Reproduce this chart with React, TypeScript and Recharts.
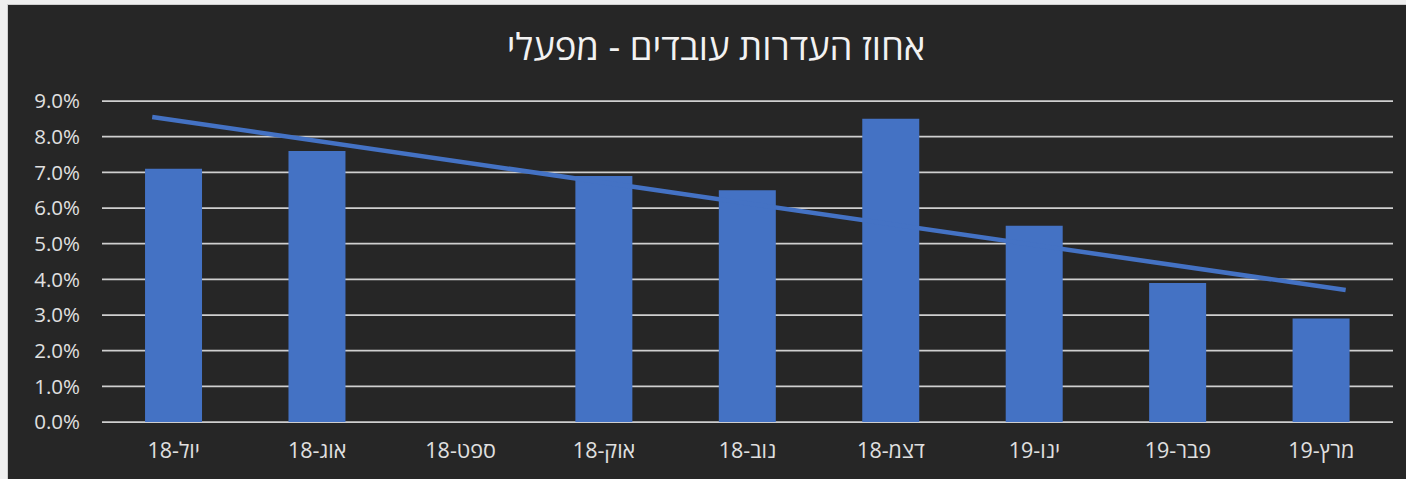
import {
  ComposedChart,
  Bar,
  Line,
  XAxis,
  YAxis,
  CartesianGrid
} from "recharts";

const months = ["יול-18", "אוג-18", "ספט-18", "אוק-18", "נוב-18", "דצמ-18", "ינו-19", "פבר-19", "מרץ-19"];
const absence = [7.1, 7.6, null, 6.9, 6.5, 8.5, 5.5, 3.9, 2.9];
const yTicks = [0, 1, 2, 3, 4, 5, 6, 7, 8, 9];

// linear trend line, start and end (x in category units)
const trendX = [0.85, 9.17];
const trendY = [8.55, 3.7];

const data = months.map((m, i) => ({ month: m, value: absence[i] }));
const trend = trendX.map((x, i) => ({ x, y: trendY[i] }));

const font = "'Open Sans', 'Liberation Sans', 'DejaVu Sans', sans-serif";

export default function App() {
  return (
    <div style={{ position: "relative", width: 1406, height: 479, background: "#efefef", overflow: "hidden" }}>
      <style>{`body{margin:0}`}</style>
      <div
        style={{
          position: "absolute",
          left: 7,
          top: 4,
          width: 1399,
          height: 475,
          borderLeft: "1px solid #cfcfcf",
          borderTop: "1px solid #cfcfcf",
          background: "#262626"
        }}
      >
        <div
          style={{
            position: "absolute",
            left: 708,
            top: 21,
            transform: "translateX(-50%)",
            whiteSpace: "nowrap",
            color: "#f2f2f2",
            fontFamily: font,
            fontSize: 36.5,
            lineHeight: "40px"
          }}
        >
          אחוז העדרות עובדים - מפעלי
        </div>
        <ComposedChart
          width={1398}
          height={474}
          data={data}
          margin={{ top: 96, right: 13, left: 0, bottom: 0 }}
          barCategoryGap="30%"
          style={{ fontFamily: font }}
        >
          <CartesianGrid vertical={false} stroke="#cfcfcf" strokeWidth={1.75} />
          <XAxis
            dataKey="month"
            height={57}
            axisLine={false}
            tickLine={false}
            tickSize={0}
            tickMargin={21}
            interval={0}
            tick={{ fill: "#e0e0e0", fontSize: 21.5 }}
          />
          <XAxis xAxisId="trend" type="number" dataKey="x" domain={[0.5, 9.5]} allowDataOverflow hide />
          <YAxis
            width={94}
            domain={[0, 9]}
            ticks={yTicks}
            axisLine={false}
            tickLine={false}
            tickSize={0}
            tickMargin={22}
            tickFormatter={(v: number) => v.toFixed(1) + "%"}
            tick={{ fill: "#e0e0e0", fontSize: 20.5 }}
          />
          <Bar dataKey="value" fill="#4472c4" isAnimationActive={false} />
          <Line
            xAxisId="trend"
            data={trend}
            dataKey="y"
            type="linear"
            stroke="#4472c4"
            strokeWidth={4.5}
            dot={false}
            activeDot={false}
            isAnimationActive={false}
          />
        </ComposedChart>
      </div>
    </div>
  );
}
